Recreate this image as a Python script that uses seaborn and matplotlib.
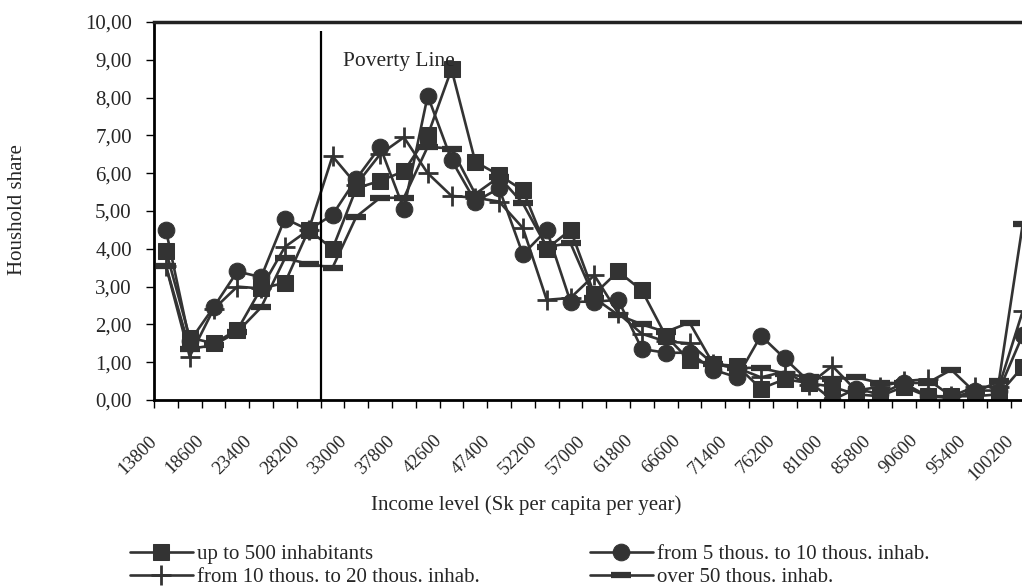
import matplotlib
matplotlib.use("Agg")
import numpy as np
import pandas as pd
import matplotlib.pyplot as plt
import seaborn as sns
from matplotlib.ticker import FuncFormatter

# income categories (Sk per capita per year)
income = [13800, 16200, 18600, 21000, 23400, 25800, 28200, 30600, 33000, 35400,
          37800, 40200, 42600, 45000, 47400, 49800, 52200, 54600, 57000, 59400,
          61800, 64200, 66600, 69000, 71400, 73800, 76200, 78600, 81000, 83400,
          85800, 88200, 90600, 93000, 95400, 97800, 100200]

up_to_500 = [3.95, 1.65, 1.50, 1.85, 2.95, 3.10, 4.50, 4.00, 5.60, 5.80,
             6.05, 7.00, 8.75, 6.30, 5.95, 5.55, 4.00, 4.50, 2.80, 3.40,
             2.90, 1.70, 1.05, 0.95, 0.90, 0.30, 0.55, 0.45, 0.35, 0.15,
             0.10, 0.35, 0.10, 0.10, 0.10, 0.15, 0.88]
from_5_to_10 = [4.50, 1.55, 2.45, 3.40, 3.25, 4.80, 4.50, 4.90, 5.85, 6.70,
                5.05, 8.05, 6.35, 5.25, 5.60, 3.85, 4.50, 2.60, 2.60, 2.65,
                1.35, 1.25, 1.25, 0.80, 0.60, 1.70, 1.10, 0.50, 0.00, 0.30,
                0.15, 0.45, 0.10, 0.05, 0.25, 0.25, 1.72]
from_10_to_20 = [3.55, 1.15, 2.40, 3.00, 2.95, 4.05, 4.50, 6.45, 5.70, 6.50,
                 6.95, 6.00, 5.40, 5.35, 5.25, 4.55, 2.65, 2.70, 3.30, 2.30,
                 1.75, 1.55, 1.50, 0.95, 0.85, 0.60, 0.75, 0.40, 0.90, 0.25,
                 0.35, 0.50, 0.55, 0.10, 0.35, 0.35, 2.35]
over_50 = [3.55, 1.35, 1.45, 1.80, 2.45, 3.75, 3.60, 3.50, 4.85, 5.35,
           5.35, 6.70, 6.65, 5.45, 5.90, 5.20, 4.05, 4.15, 2.70, 2.25,
           2.00, 1.80, 2.05, 0.95, 0.85, 0.85, 0.70, 0.60, 0.55, 0.60,
           0.45, 0.45, 0.45, 0.80, 0.20, 0.50, 4.65]

series_names = ["up to 500 inhabitants",
                "from 5 thous. to 10 thous. inhab.",
                "from 10 thous. to 20 thous. inhab.",
                "over 50 thous. inhab."]
poverty_income = 30600  # poverty line sits at the left edge of this category

sns.set_style("white")
plt.rcParams["font.family"] = ["Liberation Serif", "DejaVu Serif"]

INK = "#333333"
pos = np.arange(len(income))
df = pd.DataFrame({"pos": pos, "A": up_to_500, "B": from_5_to_10,
                   "C": from_10_to_20, "D": over_50})

W, H = 1022, 586
fig = plt.figure(figsize=(W / 100, H / 100), dpi=100)
n_slots = len(income) + 1
# plot area runs past the right edge of the picture, like the cropped original
ax = fig.add_axes([154 / W, 186 / H, n_slots * 23.8 / W, 378 / H])

styles = [
    ("A", dict(marker="s", ms=11.5, mfc=INK, mec=INK)),
    ("B", dict(marker="o", ms=12, mfc=INK, mec=INK)),
    ("C", dict(marker="+", ms=14, mew=2.0, mec=INK)),
    ("D", dict(marker="_", ms=14, mew=4.5, mec=INK)),
]
for (col, kw), name in zip(styles, series_names):
    sns.lineplot(data=df, x="pos", y=col, ax=ax, color=INK, lw=1.9,
                 sort=False, errorbar=None, legend=False, label=name, **kw)

# poverty line
pline = income.index(poverty_income) - 0.5
ax.vlines(pline, 0, 9.75, color="black", lw=1.6, zorder=5)
ax.text(pline + 0.95, 8.95, "Poverty Line", fontsize=15.5, va="center", ha="left")

ax.set_xlim(-0.5, n_slots - 0.5)
ax.set_ylim(0, 10)
ax.set_yticks(range(0, 11))
ax.yaxis.set_major_formatter(FuncFormatter(lambda v, p: f"{v:.2f}".replace(".", ",")))
ax.tick_params(axis="y", direction="out", length=6, width=1, color="black",
               labelsize=15, pad=10, left=True)

ax.set_xticks(pos - 0.5)
ax.set_xticklabels([str(v) if i % 2 == 0 else "" for i, v in enumerate(income)],
                   rotation=45, ha="right", va="center", rotation_mode="anchor")
ax.tick_params(axis="x", direction="out", length=6, width=1, color="black",
               labelsize=13.5, pad=21.5, bottom=True)

for side in ["left", "bottom"]:
    ax.spines[side].set_color("black")
    ax.spines[side].set_linewidth(2.0)
ax.spines["top"].set_color("#222222")
ax.spines["top"].set_linewidth(2.5)
ax.spines["right"].set_visible(False)
ax.grid(False)
ax.set_xlabel("")
ax.set_ylabel("")

fig.text(18 / W, 1 - 210 / H, "Houshold share", fontsize=15, rotation=90,
         ha="center", va="center")
fig.text(526 / W, 1 - 505 / H, "Income level (Sk per capita per year)",
         fontsize=15, ha="center", va="center")

# legend: two columns placed separately
handles, labels = ax.get_legend_handles_labels()
leg_kw = dict(loc="center left", frameon=False, borderpad=0, borderaxespad=0,
              handlelength=3.0, handletextpad=0.2, labelspacing=0.15,
              fontsize=15)
fig.legend([handles[0], handles[2]], [labels[0], labels[2]],
           bbox_to_anchor=(130 / W, 1 - 566 / H), **leg_kw)
fig.legend([handles[1], handles[3]], [labels[1], labels[3]],
           bbox_to_anchor=(590 / W, 1 - 566 / H), **leg_kw)

fig.savefig("out.png", dpi=100)
